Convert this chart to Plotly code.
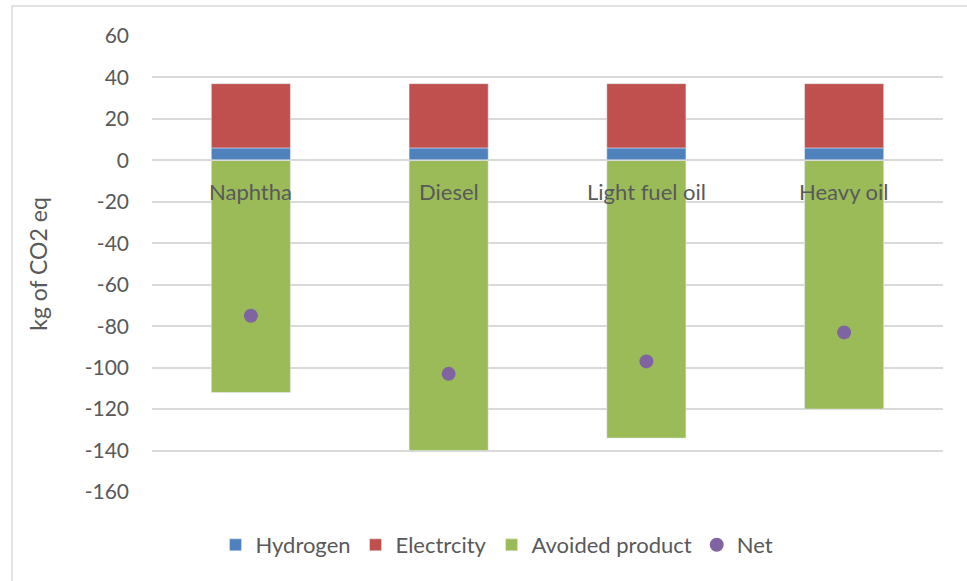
import plotly.graph_objects as go

categories = ["Naphtha", "Diesel", "Light fuel oil", "Heavy oil"]
hydrogen = [6, 6, 6, 6]
electricity = [31, 31, 31, 31]
avoided_product = [-112, -140, -134, -120]
net = [-75, -103, -97, -83]
y_ticks = list(range(-160, 61, 20))
y_tick_text = [str(v) for v in y_ticks]  # plain hyphen for negatives

W, H = 967, 581
L, R, T, B = 152, 24, 36, 89
pw, ph = W - L - R, H - T - B

FONT = "Lato"
GREY = "#595959"
GRID = "#D9D9D9"

fig = go.Figure()
fig.add_bar(name="Hydrogen", x=categories, y=hydrogen, marker_color="#4F81BD")
fig.add_bar(name="Electrcity", x=categories, y=electricity, marker_color="#C0504D")
fig.add_bar(name="Avoided product", x=categories, y=avoided_product, marker_color="#9BBB59")
fig.add_scatter(name="Net", x=categories, y=net, mode="markers",
                marker=dict(color="#8064A2", size=14))

# category names sit just under the zero line
for c in categories:
    fig.add_annotation(x=c, y=0, text=c, showarrow=False, yanchor="middle",
                       yshift=-31, font=dict(family=FONT, size=22, color=GREY))

# zero line drawn over the bars
fig.add_shape(type="line", xref="paper", yref="y", x0=0, x1=1, y0=0, y1=0,
              line=dict(color=GRID, width=1.5), layer="above")

# chart-area frame
fig.add_shape(type="rect", xref="paper", yref="paper",
              x0=(12 - L) / pw, x1=(W + 10 - L) / pw,
              y0=-(H + 10 - T - ph) / ph, y1=1 + (T - 6) / ph,
              line=dict(color="#D9D9D9", width=1.5), layer="below")

fig.update_layout(
    width=W, height=H,
    margin=dict(l=L, r=R, t=T, b=B),
    plot_bgcolor="white", paper_bgcolor="white",
    barmode="relative", bargap=0.6,
    font=dict(family=FONT, size=21, color=GREY),
    showlegend=True,
    legend=dict(orientation="h", x=(497 - L) / pw, xanchor="center",
                y=-53 / ph, yanchor="middle", font=dict(size=22, color=GREY),
                itemwidth=30, traceorder="normal"),
    xaxis=dict(showticklabels=False, showgrid=False, zeroline=False,
               showline=False, ticks=""),
    yaxis=dict(range=[-160, 60], tickvals=y_ticks, ticktext=y_tick_text,
               showgrid=True, gridcolor=GRID, gridwidth=1.5, zeroline=False,
               showline=False, ticks="", ticklabelstandoff=22,
               title=dict(text="kg of CO2 eq", standoff=30,
                          font=dict(size=23, color=GREY)),
               tickfont=dict(size=21, color=GREY)),
)

fig.write_html("out.html")
